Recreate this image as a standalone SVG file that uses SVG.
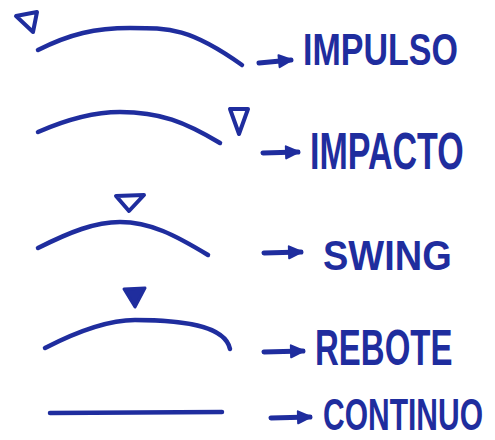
<svg xmlns="http://www.w3.org/2000/svg" width="495" height="440" viewBox="0 0 495 440">
<defs>
<style>
.curve{fill:none;stroke:#1f2d9e;stroke-width:4.5;stroke-linecap:round;stroke-linejoin:round}
.tri{fill:none;stroke:#1f2d9e;stroke-width:4;stroke-linejoin:round}
.trif{fill:#1f2d9e;stroke:#1f2d9e;stroke-width:3;stroke-linejoin:round}
.arr{fill:none;stroke:#1f2d9e;stroke-width:5;stroke-linecap:round}
.lbl{font-family:"Liberation Sans","DejaVu Sans",sans-serif;fill:#1f2d9e;font-weight:bold}
</style>
<marker id="ah" markerUnits="userSpaceOnUse" markerWidth="18" markerHeight="18" refX="14" refY="9" orient="auto">
<path d="M2,3 L15,9 L2,15 Z" fill="#1f2d9e" stroke="#1f2d9e" stroke-width="2" stroke-linejoin="round"/>
</marker>
</defs>
<rect width="495" height="440" fill="#ffffff"/>
<g id="impulso">
<path class="tri" d="M16,16 L37,12 L33,32 Z"/>
<path class="curve" d="M38,50 C70,34 95,28 130,28 C170,28 190,28 242,65"/>
<text class="lbl" transform="translate(303,65) scale(1,1.3)" font-size="34">IMPULSO</text>
</g>
<g id="impacto">
<path class="curve" d="M38,132 C70,118 95,112 120,112 C160,112 185,122 220,143"/>
<path class="tri" d="M230,109 L248,109 L239,134 Z"/>
<text class="lbl" transform="translate(310,169) scale(1,1.5)" font-size="34">IMPACTO</text>
</g>
<g id="swing">
<path class="tri" d="M116,196 L144,195 L129,211 Z"/>
<path class="curve" d="M38,248 C70,232 95,222 120,222 C150,222 175,235 208,255"/>
<text class="lbl" transform="translate(323,270) scale(1,1.1)" font-size="38">SWING</text>
</g>
<g id="rebote">
<path class="trif" d="M124,289 L145,288 L135,307 Z"/>
<path class="curve" d="M45,348 C80,330 110,320 135,320 C180,320 225,325 230,349"/>
<text class="lbl" transform="translate(315,365) scale(1,1.5)" font-size="33">REBOTE</text>
</g>
<g id="continuo">
<path class="curve" d="M50,413 L222,412"/>
<text class="lbl" transform="translate(323,430) scale(1,1.45)" font-size="30">CONTINUO</text>
</g>
<g id="connectors">
<path class="arr" marker-end="url(#ah)" d="M259,63 L291,60"/>
<path class="arr" marker-end="url(#ah)" d="M263,153 L298,152"/>
<path class="arr" marker-end="url(#ah)" d="M264,253 L301,252"/>
<path class="arr" marker-end="url(#ah)" d="M264,352 L303,351"/>
<path class="arr" marker-end="url(#ah)" d="M271,418 L310,417"/>
</g>
</svg>
